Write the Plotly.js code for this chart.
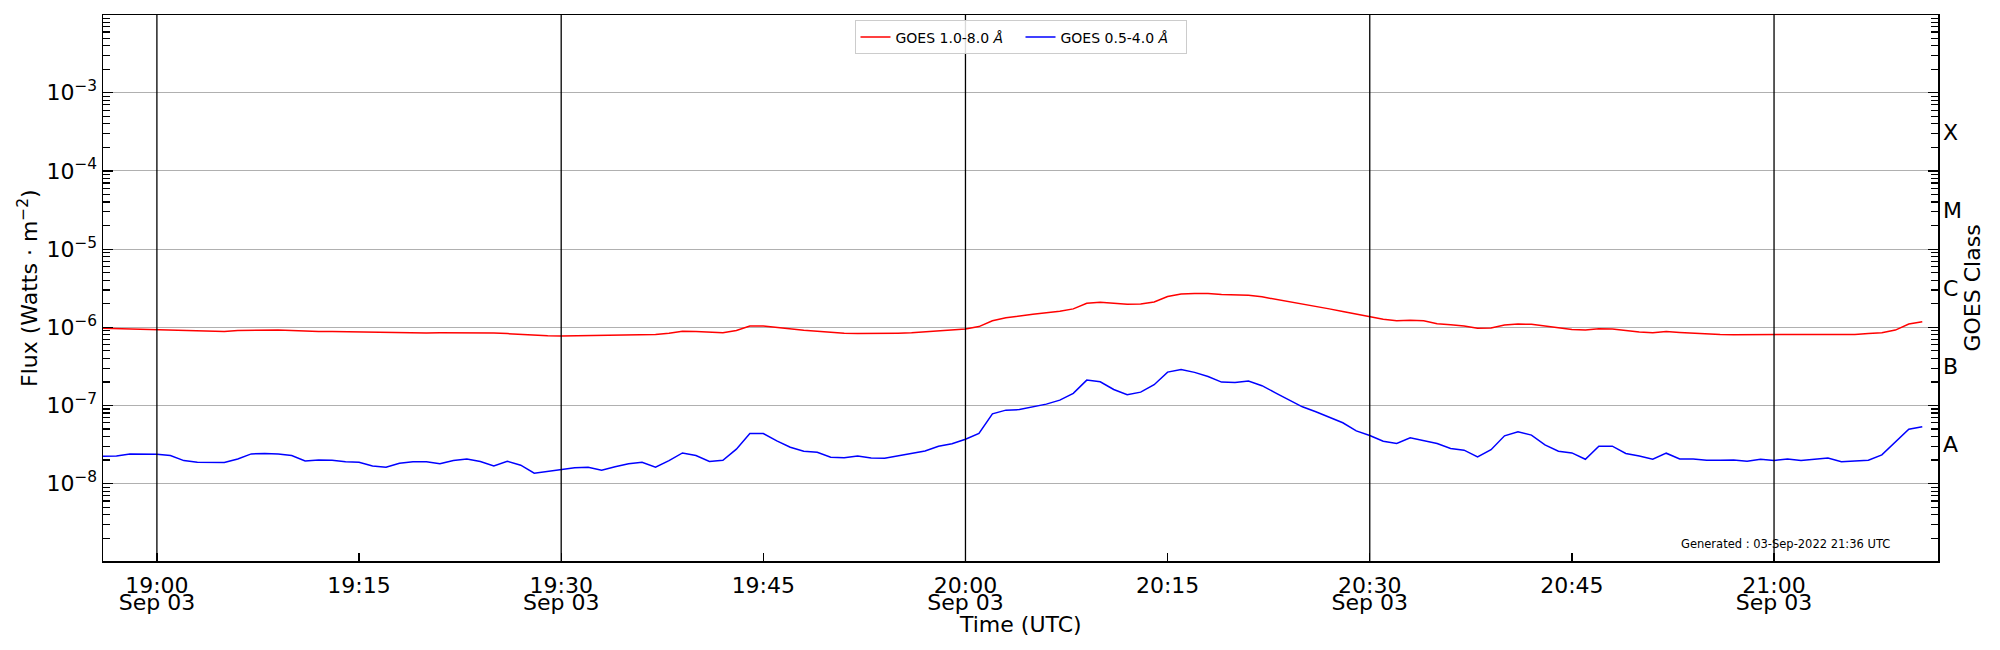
<!DOCTYPE html>
<html>
<head>
<meta charset="utf-8">
<script src="https://cdn.plot.ly/plotly-3.0.1.min.js"></script>
<style>
  html, body { margin: 0; padding: 0; background: #fff; }
  #graph { width: 2000px; height: 650px; }
</style>
</head>
<body>
<div id="graph"></div>
<script>
/* GOES XRS one-minute samples, Sep 03 2022 */
const startTime = "2022-09-03T18:56:00";
const cadenceMin = 1;

/* 1.0-8.0 A channel, W m^-2 */
const longFlux = [
    9.7e-7, 9.6e-7, 9.5e-7, 9.4e-7, 9.3e-7, 9.2e-7, 9.15e-7, 9.0e-7, 8.9e-7, 8.8e-7,
    9.1e-7, 9.2e-7, 9.3e-7, 9.2e-7, 9.1e-7, 8.9e-7, 8.8e-7, 8.8e-7, 8.75e-7, 8.7e-7,
    8.6e-7, 8.5e-7, 8.5e-7, 8.5e-7, 8.45e-7, 8.5e-7, 8.5e-7, 8.5e-7, 8.5e-7, 8.45e-7,
    8.3e-7, 8.1e-7, 8.0e-7, 7.8e-7, 7.75e-7, 7.8e-7, 7.8e-7, 7.9e-7, 8.0e-7, 8.0e-7,
    8.05e-7, 8.1e-7, 8.4e-7, 8.9e-7, 8.8e-7, 8.6e-7, 8.5e-7, 9.1e-7, 1.04e-6, 1.04e-6,
    9.9e-7, 9.5e-7, 9.15e-7, 8.9e-7, 8.6e-7, 8.4e-7, 8.3e-7, 8.3e-7, 8.3e-7, 8.4e-7,
    8.5e-7, 8.7e-7, 9.0e-7, 9.2e-7, 9.5e-7, 1.02e-6, 1.21e-6, 1.32e-6, 1.40e-6, 1.47e-6,
    1.53e-6, 1.60e-6, 1.72e-6, 2.03e-6, 2.09e-6, 2.03e-6, 1.97e-6, 1.99e-6, 2.11e-6, 2.47e-6,
    2.67e-6, 2.70e-6, 2.70e-6, 2.62e-6, 2.57e-6, 2.57e-6, 2.45e-6, 2.29e-6, 2.11e-6, 1.97e-6,
    1.84e-6, 1.72e-6, 1.59e-6, 1.47e-6, 1.36e-6, 1.27e-6, 1.21e-6, 1.23e-6, 1.21e-6, 1.11e-6,
    1.08e-6, 1.04e-6, 9.7e-7, 9.8e-7, 1.07e-6, 1.10e-6, 1.09e-6, 1.04e-6, 9.8e-7, 9.4e-7,
    9.2e-7, 9.6e-7, 9.5e-7, 9.0e-7, 8.7e-7, 8.5e-7, 8.8e-7, 8.6e-7, 8.4e-7, 8.3e-7,
    8.1e-7, 8.05e-7, 8.05e-7, 8.05e-7, 8.05e-7, 8.05e-7, 8.05e-7, 8.05e-7, 8.05e-7, 8.05e-7,
    8.1e-7, 8.3e-7, 8.5e-7, 9.2e-7, 1.10e-6, 1.18e-6
];

/* 0.5-4.0 A channel, W m^-2 */
const shortFlux = [
    2.24e-8, 2.26e-8, 2.40e-8, 2.38e-8, 2.38e-8, 2.29e-8, 1.97e-8, 1.88e-8, 1.86e-8, 1.86e-8,
    2.07e-8, 2.40e-8, 2.43e-8, 2.40e-8, 2.29e-8, 1.95e-8, 2.01e-8, 1.99e-8, 1.90e-8, 1.88e-8,
    1.68e-8, 1.62e-8, 1.82e-8, 1.90e-8, 1.90e-8, 1.79e-8, 1.97e-8, 2.07e-8, 1.92e-8, 1.68e-8,
    1.93e-8, 1.72e-8, 1.36e-8, 1.44e-8, 1.53e-8, 1.60e-8, 1.62e-8, 1.48e-8, 1.64e-8, 1.79e-8,
    1.88e-8, 1.62e-8, 1.97e-8, 2.47e-8, 2.29e-8, 1.92e-8, 1.99e-8, 2.76e-8, 4.38e-8, 4.38e-8,
    3.52e-8, 2.92e-8, 2.60e-8, 2.52e-8, 2.18e-8, 2.15e-8, 2.26e-8, 2.13e-8, 2.11e-8, 2.26e-8,
    2.45e-8, 2.62e-8, 3.01e-8, 3.23e-8, 3.70e-8, 4.38e-8, 7.82e-8, 8.71e-8, 8.85e-8, 9.61e-8,
    1.04e-7, 1.17e-7, 1.43e-7, 2.11e-7, 2.01e-7, 1.60e-7, 1.37e-7, 1.48e-7, 1.84e-7, 2.67e-7,
    2.89e-7, 2.65e-7, 2.35e-7, 1.99e-7, 1.97e-7, 2.05e-7, 1.79e-7, 1.45e-7, 1.18e-7, 9.61e-8,
    8.29e-8, 7.02e-8, 6.00e-8, 4.73e-8, 4.13e-8, 3.49e-8, 3.26e-8, 3.85e-8, 3.52e-8, 3.26e-8,
    2.81e-8, 2.68e-8, 2.20e-8, 2.72e-8, 4.09e-8, 4.60e-8, 4.17e-8, 3.13e-8, 2.60e-8, 2.47e-8,
    2.05e-8, 3.01e-8, 3.01e-8, 2.43e-8, 2.26e-8, 2.05e-8, 2.45e-8, 2.07e-8, 2.07e-8, 1.99e-8,
    1.99e-8, 2.01e-8, 1.93e-8, 2.05e-8, 1.97e-8, 2.07e-8, 1.97e-8, 2.03e-8, 2.13e-8, 1.90e-8,
    1.95e-8, 1.99e-8, 2.33e-8, 3.39e-8, 4.97e-8, 5.33e-8
];

/* x ticks: time on the first line, date on the second (30 min only) */
const tickTimes = [
    "2022-09-03 19:00", "2022-09-03 19:15", "2022-09-03 19:30", "2022-09-03 19:45",
    "2022-09-03 20:00", "2022-09-03 20:15", "2022-09-03 20:30", "2022-09-03 20:45",
    "2022-09-03 21:00"
];
const tickText = ["19:00", "19:15", "19:30", "19:45", "20:00", "20:15", "20:30", "20:45", "21:00"];
const markerTimes = ["2022-09-03 19:00", "2022-09-03 19:30", "2022-09-03 20:00",
    "2022-09-03 20:30", "2022-09-03 21:00"];
const markerText = ["Sep 03", "Sep 03", "Sep 03", "Sep 03", "Sep 03"];

/* y ticks */
const decades = [1e-9, 1e-8, 1e-7, 1e-6, 1e-5, 1e-4, 1e-3];
const fluxTicks = [1e-8, 1e-7, 1e-6, 1e-5, 1e-4, 1e-3];
const fluxText = ["10<sup>\u22128</sup>", "10<sup>\u22127</sup>", "10<sup>\u22126</sup>",
    "10<sup>\u22125</sup>", "10<sup>\u22124</sup>", "10<sup>\u22123</sup>"];
const minorDigits = [2, 3, 4, 5, 6, 7, 8, 9];

/* GOES class labels sit mid-decade */
const classTicks = [3.16e-8, 3.16e-7, 3.16e-6, 3.16e-5, 3.16e-4];
const classLabels = ["A", "B", "C", "M", "X"];

/* sample times from the one-minute cadence */
function sampleTimes(n) {
    const t0 = new Date(startTime + "Z").getTime();
    const out = [];
    for (let i = 0; i < n; i++) {
        const d = new Date(t0 + i * cadenceMin * 60000);
        out.push(d.toISOString().slice(0, 19).replace("T", " "));
    }
    return out;
}

const times = sampleTimes(longFlux.length);
const minorTicks = [];
decades.forEach((d) => minorDigits.forEach((m) => minorTicks.push(d * m)));

const font = "DejaVu Sans, sans-serif";
const xRange = ["2022-09-03 18:56:00", "2022-09-03 21:12:10"];
const yRange = [-8.99, -2.005];

const traceLong = {
    x: times,
    y: longFlux,
    name: "GOES 1.0-8.0 <i>\u00c5</i>",
    type: "scatter",
    mode: "lines",
    line: { color: "#ff0000", width: 1.5 },
};

const traceShort = {
    x: times,
    y: shortFlux,
    name: "GOES 0.5-4.0 <i>\u00c5</i>",
    type: "scatter",
    mode: "lines",
    line: { color: "#0000ff", width: 1.5 },
};

// invisible copy so the twin axes (date line, GOES class) get drawn
const traceTwin = {
    x: times,
    y: longFlux,
    xaxis: "x2",
    yaxis: "y2",
    type: "scatter",
    mode: "lines",
    line: { color: "rgba(0,0,0,0)", width: 0 },
    showlegend: false,
    hoverinfo: "skip",
};

const shapes = markerTimes.map((t) => ({
    type: "line",
    xref: "x",
    yref: "paper",
    x0: t,
    x1: t,
    y0: 0,
    y1: 1,
    line: { color: "#000000", width: 1.3 },
    layer: "above",
}));

const tickStyle = { ticks: "inside", ticklen: 10, tickwidth: 1.2, tickcolor: "#000000" };

const layout = {
    width: 2000,
    height: 650,
    margin: { l: 103, r: 62, t: 15, b: 89 },
    paper_bgcolor: "#ffffff",
    plot_bgcolor: "#ffffff",
    font: { family: font, size: 22, color: "#000000" },
    showlegend: true,
    legend: {
        orientation: "h",
        x: 0.5,
        xanchor: "center",
        y: 0.99,
        yanchor: "top",
        entrywidth: 120,
        bgcolor: "rgba(255,255,255,0.85)",
        bordercolor: "#cccccc",
        borderwidth: 1,
        font: { family: font, size: 14 },
    },
    xaxis: {
        type: "date",
        range: xRange,
        tickmode: "array",
        tickvals: tickTimes,
        ticktext: tickText,
        ...tickStyle,
        ticklen: 8,
        ticklabelstandoff: 4,
        showgrid: false,
        zeroline: false,
        showline: true,
        linecolor: "#000000",
        linewidth: 1.5,
        mirror: true,
        tickfont: { family: font, size: 22 },
    },
    xaxis2: {
        type: "date",
        overlaying: "x",
        side: "bottom",
        anchor: "y",
        range: xRange,
        tickmode: "array",
        tickvals: markerTimes,
        ticktext: markerText,
        ticks: "",
        ticklabelstandoff: 26,
        showgrid: false,
        zeroline: false,
        showline: false,
        tickfont: { family: font, size: 22 },
    },
    yaxis: {
        type: "log",
        range: yRange,
        tickmode: "array",
        tickvals: fluxTicks,
        ticktext: fluxText,
        ...tickStyle,
        showgrid: true,
        gridcolor: "#b0b0b0",
        gridwidth: 1,
        zeroline: false,
        showline: true,
        linecolor: "#000000",
        linewidth: 1.5,
        mirror: "allticks",
        minor: {
            tickmode: "array",
            tickvals: minorTicks,
            ...tickStyle,
            ticklen: 7,
            showgrid: false,
        },
        tickfont: { family: font, size: 22 },
    },
    yaxis2: {
        type: "log",
        overlaying: "y",
        side: "right",
        anchor: "x",
        range: yRange,
        tickmode: "array",
        tickvals: classTicks,
        ticktext: classLabels,
        ticks: "",
        ticklabelstandoff: 4,
        showgrid: false,
        zeroline: false,
        showline: false,
        tickfont: { family: font, size: 22 },
    },
    shapes: shapes,
    annotations: [
        {
            text: "Time (UTC)",
            xref: "paper", yref: "paper",
            x: 0.5, y: -0.1154,
            xanchor: "center", yanchor: "middle",
            showarrow: false,
            font: { family: font, size: 22 },
        },
        {
            text: "Flux (Watts \u00b7 m<sup>\u22122</sup>)",
            xref: "paper", yref: "paper",
            x: -0.0409, y: 0.5,
            xanchor: "center", yanchor: "middle",
            textangle: -90,
            showarrow: false,
            font: { family: font, size: 22 },
        },
        {
            text: "GOES Class",
            xref: "paper", yref: "paper",
            x: 1.0188, y: 0.5,
            xanchor: "center", yanchor: "middle",
            textangle: -90,
            showarrow: false,
            font: { family: font, size: 22 },
        },
        {
            text: "Generated : 03-Sep-2022 21:36 UTC",
            xref: "paper", yref: "paper",
            x: 0.975, y: 0.031,
            xanchor: "right", yanchor: "middle",
            showarrow: false,
            font: { family: font, size: 11.5, color: "#000000" },
        },
    ],
};

Plotly.newPlot("graph", [traceLong, traceShort, traceTwin], layout, { displayModeBar: false, staticPlot: true });
</script>
</body>
</html>
